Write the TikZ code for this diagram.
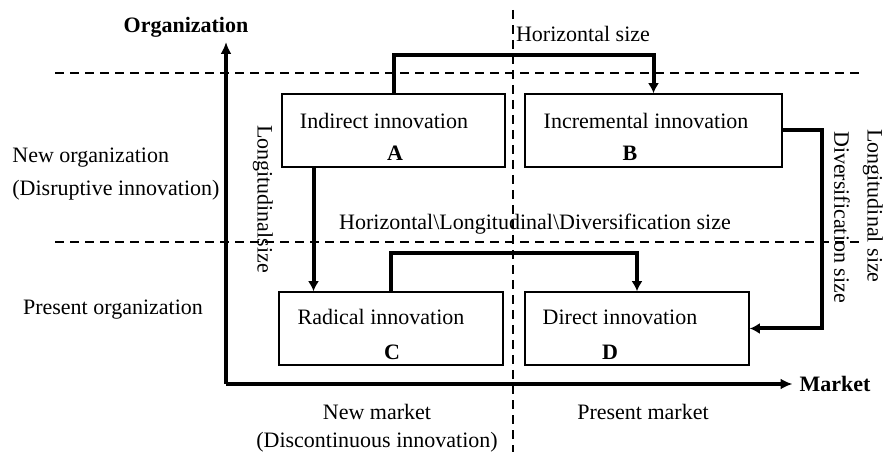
\documentclass[tikz,border=0pt]{standalone}
\usepackage{fontspec}
\setmainfont{Liberation Serif}
\usetikzlibrary{arrows.meta}
\tikzset{
quadrant/.style={
	  draw, line width=0.8pt, minimum width=#1*0.5pt,
	    minimum height=36.5pt, inner sep=0pt},
flow/.style={line width=2pt, -{Latex[length=5pt,width=5.5pt]}},
axis/.style={line width=2pt, -{Latex[length=6pt,width=5.5pt]}},
split/.style={line width=0.8pt, dash pattern=on 4.5pt off 3pt}
}
\newcommand{\bsl}{\textbackslash}

\begin{document}
\begin{tikzpicture}[x=0.5pt, y=-0.5pt, font=\fontsize{11}{13}\selectfont]
	\useasboundingbox (0,0) rectangle (884,454);
	% the four quadrants
	\node[quadrant=223] (boxA) at (393.5,130.5) {};
	\node[quadrant=257] (boxB) at (653.5,130.5) {};
	\node[quadrant=224] (boxC) at (391,328.5) {};
	\node[quadrant=224] (boxD) at (637,328.5) {};
	\node (textA) at ([shift={(-9.5,-9.5)}]boxA.center) {Indirect innovation};
	\node[font=\fontsize{11}{13}\selectfont\bfseries] (tagA) at ([shift={(1.5,22.5)}]boxA.center) {A};
	\node (textB) at ([shift={(-7.5,-9.5)}]boxB.center) {Incremental innovation};
	\node[font=\fontsize{11}{13}\selectfont\bfseries] (tagB) at ([shift={(-23.5,22.5)}]boxB.center) {B};
	\node (textC) at ([shift={(-10,-11.5)}]boxC.center) {Radical innovation};
	\node[font=\fontsize{11}{13}\selectfont\bfseries] (tagC) at ([shift={(1,23.5)}]boxC.center) {C};
	\node (textD) at ([shift={(-17,-11.5)}]boxD.center) {Direct innovation};
	\node[font=\fontsize{11}{13}\selectfont\bfseries] (tagD) at ([shift={(-27,23.5)}]boxD.center) {D};

	% dashed borders
	\coordinate (topL) at (55,73);  \coordinate (topR) at (862,73);
	\coordinate (midL) at (55,242); \coordinate (midR) at (862,242);
	\coordinate (vTop) at (513,10); \coordinate (vBot) at (513,452);
	\draw[split] (topL) -- (topR);
	\draw[split] (midL) -- (midR);
	\draw[split] (vTop) -- (vBot);

	% axes
	\coordinate (origin) at (226,384);
	\node[font=\fontsize{11}{13}\selectfont\bfseries] (org) at (186,27) {Organization};
	\node[font=\fontsize{11}{13}\selectfont\bfseries] (mkt) at (835,384) {Market};
	\draw[axis] (origin) -- (226,42);
	\draw[axis] (origin) -- (mkt.west);

	% moves between quadrants
	\draw[flow] (boxA.north) -- ++(0,-38) -| (boxB.north);
	\draw[flow] ([xshift=-40pt]boxA.south) -- ([xshift=-40pt]boxA.south |- boxC.north);
	\draw[flow] (boxC.north) -- ++(0,-38) -| (boxD.north);
	\draw[flow] (boxB.east) -- ++(39,0) |- (boxD.east);

	% labels
	\node (hsize) at (583,34) {Horizontal size};
	\node[rotate=-90] (lsize) at (263,199) {Longitudinalsize};
	\node (allsize) at (535,224) {Horizontal\bsl Longitudinal\bsl Diversification size};
	\node[rotate=-90] (lsize2) at (873,206) {Longitudinal size};
	\node[rotate=-90] (dsize) at (842,217) {Diversification size};
	\node[anchor=west, inner sep=0pt] (neworg) at (12,158) {New organization};
	\node[anchor=west, inner sep=0pt] (disrupt) at (12,190) {(Disruptive innovation)};
	\node (presorg) at (113,310) {Present organization};
	\node (newmkt) at (377,412) {New market};
	\node (discont) at (377,442) {(Discontinuous innovation)};
	\node (presmkt) at (643,412) {Present market};
\end{tikzpicture}
\end{document}
